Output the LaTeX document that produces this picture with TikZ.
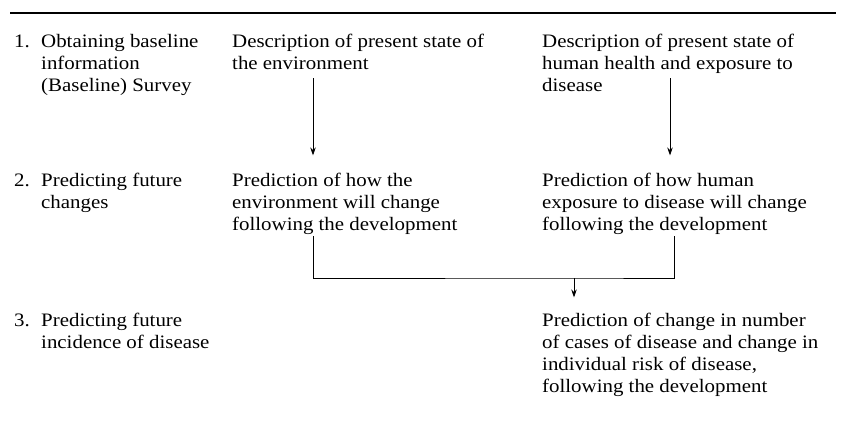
\documentclass[tikz,border=0pt]{standalone}
\usepackage{fontspec}
\setmainfont{Liberation Serif}[FakeStretch=1.1]
\usetikzlibrary{arrows.meta}

\begin{document}
\begin{tikzpicture}[x=1pt, y=-1pt,
  txt/.style={anchor=base west, inner sep=0pt, align=left, font=\fontsize{19}{22.3}\selectfont},
  arr/.style={-{Stealth[length=8pt,width=5.5pt]}, line width=0.8pt}]
\useasboundingbox (0,0) rectangle (851,421);
\draw[line width=1.5pt] (10,13) -- (836,13);
% row 1 (nodes are placed by the baseline of their last line)
\node  (n1)[txt] at (14,47) {1.};
\node  (s1)[txt] at (41,91.6) {Obtaining baseline\\information\\(Baseline) Survey};
\node  (env)[txt] at (232,69.3) {Description of present state of\\the environment};
\node  (hlth)[txt] at (542,91.6) {Description of present state of\\human health and exposure to\\disease};
% row 2
\node  (n2)[txt] at (14,186) {2.};
\node  (s2)[txt] at (41,208.3) {Predicting future\\changes};
\node  (envp)[txt] at (232,230.6) {Prediction of how the\\environment will change\\following the development};
\node  (hlthp)[txt] at (542,230.6) {Prediction of how human\\exposure to disease will change\\following the development};
% row 3
\node  (n3)[txt] at (14,326) {3.};
\node  (s3)[txt] at (41,348.3) {Predicting future\\incidence of disease};
\node  (dis)[txt] at (542,392.9) {Prediction of change in number\\of cases of disease and change in\\individual risk of disease,\\following the development};
% connectors
\coordinate (c1) at (313,78);
\coordinate (c2) at (670,78);
\coordinate (j1) at (313,236);
\coordinate (j2) at (674,236);
\coordinate (m) at (574,278);
\draw[arr] (c1) -- ([yshift=17pt]c1 |- envp.north);
\draw[arr] (c2) -- ([yshift=17pt]c2 |- hlthp.north);
\draw[line width=0.8pt] (j1) |- (m) -| (j2);
\draw[arr] (m) -- ([yshift=15pt]m |- dis.north);
\end{tikzpicture}
\end{document}
